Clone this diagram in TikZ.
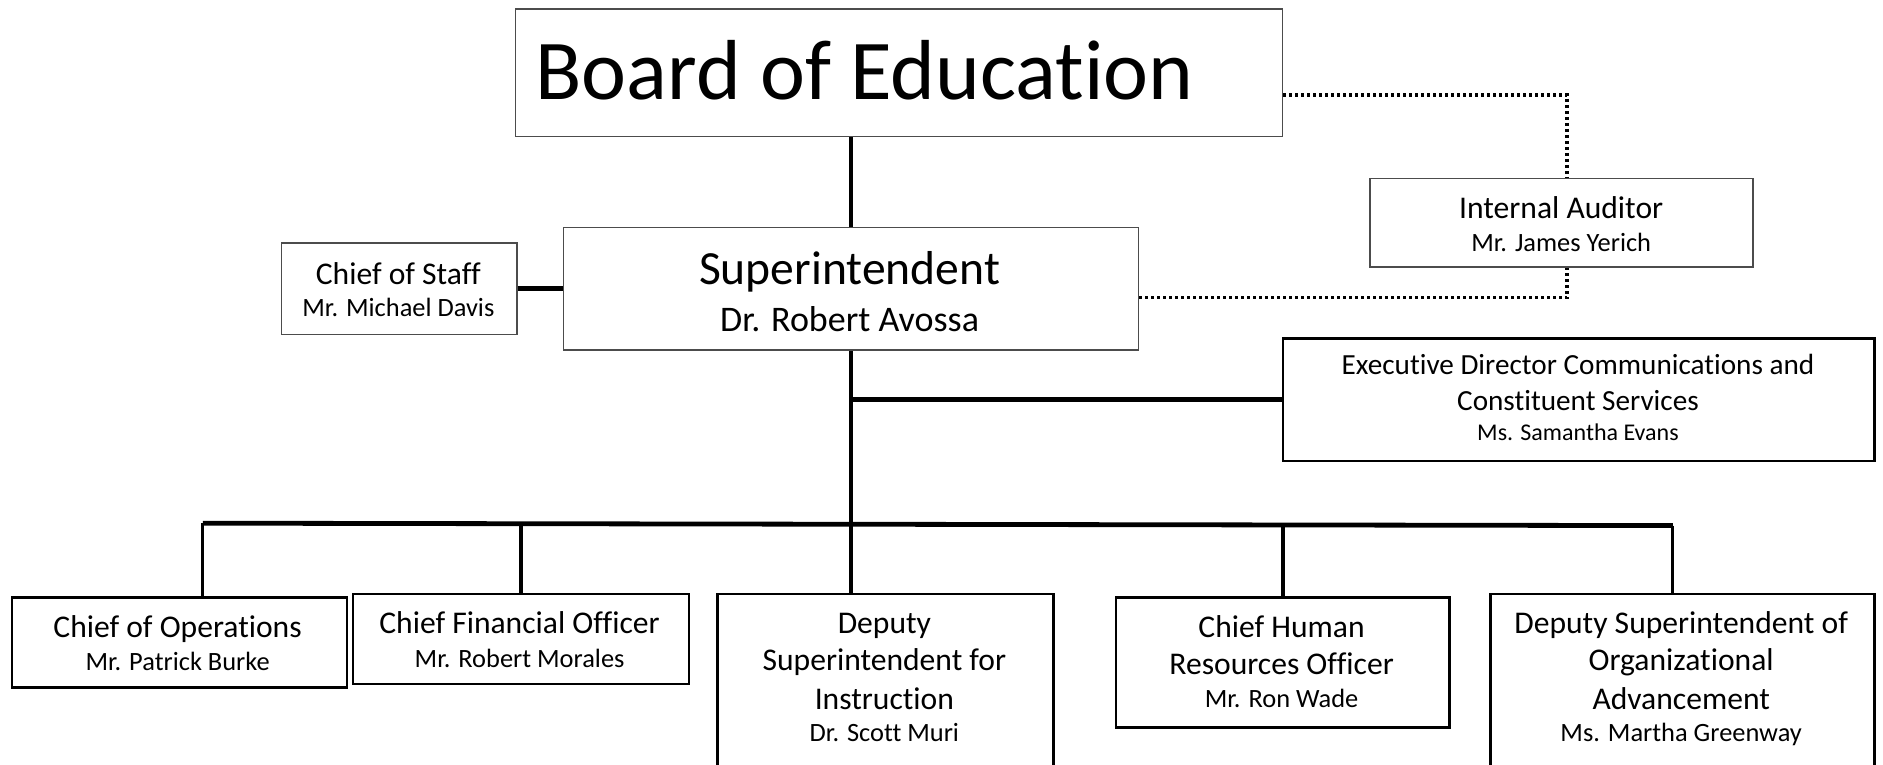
\documentclass[tikz,border=0pt]{standalone}
\usepackage{fontspec}
\setmainfont{Carlito}[RawFeature={-liga;-clig;-dlig}]
\usetikzlibrary{calc}
\newcommand\fBoard{\fontsize{42.6pt}{50pt}\selectfont}
\newcommand\fSupT{\fontsize{23.8pt}{28pt}\selectfont}
\newcommand\fSupN{\fontsize{18pt}{22pt}\selectfont}
\newcommand\fReg{\fontsize{15.8pt}{19pt}\selectfont}
\newcommand\fSmall{\fontsize{13.2pt}{16pt}\selectfont}
\newcommand\fExec{\fontsize{14.6pt}{18pt}\selectfont}
\newcommand\fExecN{\fontsize{12pt}{15pt}\selectfont}
\begin{document}
\begin{tikzpicture}[x=0.6pt,y=-0.6pt,
  bx/.style 2 args={anchor=north west, inner sep=0pt, minimum width=#1*0.6pt, minimum height=#2*0.6pt},
  lightbox/.style={draw=black!70, line width=0.8pt, fill=white},
  darkbox/.style={draw=black, line width=1.3pt, fill=white},
  txt/.style={anchor=base, inner sep=0pt, text=black},
  reg/.style={txt, font=\fReg},
  small/.style={txt, font=\fSmall},
  conn/.style={draw=black, line width=1.7pt},
  thickconn/.style={draw=black, line width=2.4pt},
  dotline/.style={draw=black, line width=1.8pt, dash pattern=on 1.4pt off 1.6pt}
]
\useasboundingbox (0,0) rectangle (1569.2,637.5);
\begin{scope}
\clip (0,0) rectangle (1569.2,637.5);

% boxes
\node[lightbox, bx={639}{106}] (boe) at (429,7) {};
\node[lightbox, bx={479}{102}] (sup) at (469,189) {};
\node[lightbox, bx={196}{76}] (cos) at (234,202) {};
\node[lightbox, bx={319}{74}] (ia) at (1141,148) {};
\node[darkbox, bx={493}{102}] (ed) at (1068,281) {};
\node[darkbox, bx={279}{75}] (cops) at (9,497) {};
\node[darkbox, bx={280}{75}] (cfo) at (293,494) {};
\node[darkbox, bx={280}{170}] (dsi) at (597,494) {};
\node[darkbox, bx={278}{108}] (chro) at (929,497) {};
\node[darkbox, bx={320}{170}] (dsoa) at (1241,494) {};

% texts
\node[txt, anchor=base west, font=\fBoard] (boe-t) at (446,83) {Board of Education};
\node[txt, font=\fSupT] (sup-t) at (708,237) {Superintendent};
\node[txt, font=\fSupN] (sup-n) at (708,276) {Dr. Robert Avossa};
\node[reg] (cos-t) at (332,237) {Chief of Staff};
\node[small] (cos-n) at (332,264) {Mr. Michael Davis};
\node[reg] (ia-t) at (1301,182) {Internal Auditor};
\node[small] (ia-n) at (1301,210) {Mr. James Yerich};
\node[txt, font=\fExec] (ed-t1) at (1315,312) {Executive Director Communications and};
\node[txt, font=\fExec] (ed-t2) at (1315,342) {Constituent Services};
\node[txt, font=\fExecN] (ed-n) at (1315,367) {Ms. Samantha Evans};
\node[reg] (cops-t) at (148,531) {Chief of Operations};
\node[small] (cops-n) at (148,559) {Mr. Patrick Burke};
\node[reg] (cfo-t) at (433,528) {Chief Financial Officer};
\node[small] (cfo-n) at (433,556) {Mr. Robert Morales};
\node[reg] (dsi-t1) at (737,528) {Deputy};
\node[reg] (dsi-t2) at (737,559) {Superintendent for};
\node[reg] (dsi-t3) at (737,591) {Instruction};
\node[small] (dsi-n) at (737,618) {Dr. Scott Muri};
\node[reg] (chro-t1) at (1068,531) {Chief Human};
\node[reg] (chro-t2) at (1068,562) {Resources Officer};
\node[small] (chro-n) at (1068,590) {Mr. Ron Wade};
\node[reg] (dsoa-t1) at (1401,528) {Deputy Superintendent of};
\node[reg] (dsoa-t2) at (1401,559) {Organizational};
\node[reg] (dsoa-t3) at (1401,591) {Advancement};
\node[small] (dsoa-n) at (1401,618) {Ms. Martha Greenway};

% connectors
\draw[conn] (sup.north) -- (sup.north |- boe.south);
\draw[thickconn] (cos.east) -- (sup.west);
\coordinate (d1) at (1306,79);
\coordinate (d2) at (1306,248);
\draw[dotline] (d1 -| boe.east) -- (d1) -- (d1 |- ia.north);
\draw[dotline] (d2 -| sup.east) -- (d2) -- (d2 |- ia.south);
\draw[conn] (sup.south) -- (sup.south |- dsi.north);
\draw[thickconn] (sup.south |- ed.west) -- (ed.west);
\coordinate (busL) at (169,436);
\coordinate (busR) at (1394,438);
\draw[thickconn] (busL) -- (busR);
\draw[conn] (busL) -- (busL |- cops.north);
\draw[conn] (cfo.north |- busL) -- (cfo.north);
\draw[conn] (chro.north |- busR) -- (chro.north);
\draw[conn] (busR) -- (busR |- dsoa.north);
\end{scope}
\end{tikzpicture}
\end{document}
